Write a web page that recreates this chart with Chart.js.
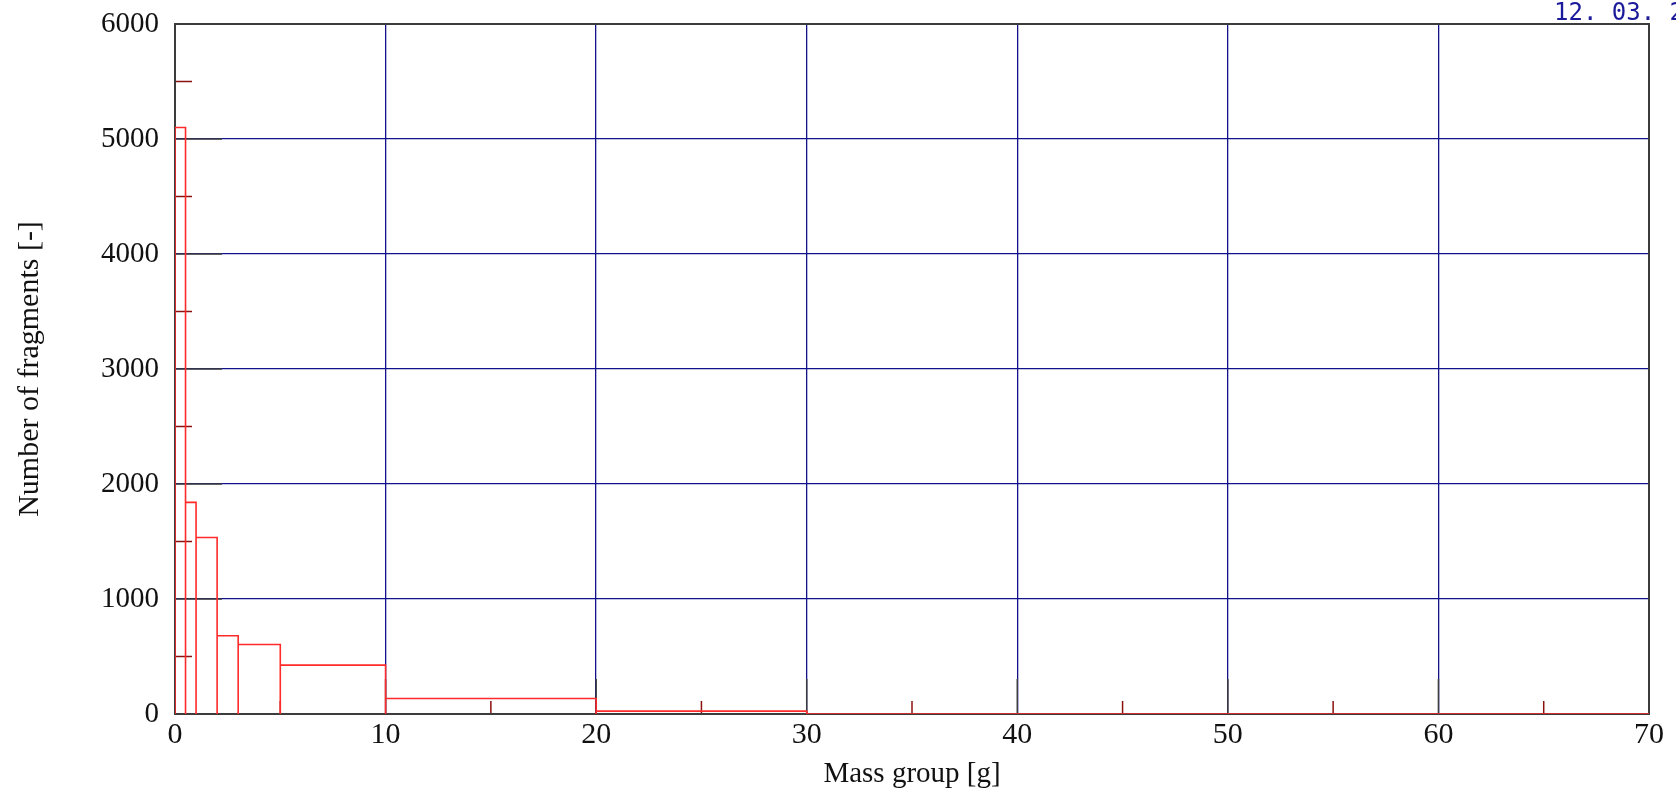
<!DOCTYPE html>
<html>
<head>
<meta charset="utf-8">
<script src="https://cdn.jsdelivr.net/npm/chart.js@4/dist/chart.umd.min.js"></script>
<style>
html, body { margin: 0; padding: 0; background: #fff; overflow: hidden; }
</style>
</head>
<body>
<canvas id="graficoMasas" width="1676" height="792"></canvas>
<script>
// bordes de clase (g) y numero de fragmentos por clase
const binEdges = [0, 0.5, 1, 2, 3, 5, 10, 20, 30, 40, 50, 60, 70];
const fragmentCounts = [5100, 1840, 1535, 680, 605, 425, 135, 25, 0, 0, 0, 0];
const xMinorTicks = [5, 15, 25, 35, 45, 55, 65];
const yMinorTicks = [500, 1500, 2500, 3500, 4500, 5500];
const dateLabel = '12. 03. 2';

// contorno del histograma (cada clase como rectangulo)
const histPoints = [{ x: binEdges[0], y: 0 }];
fragmentCounts.forEach((n, i) => {
    histPoints.push({ x: binEdges[i], y: n });
    histPoints.push({ x: binEdges[i + 1], y: n });
    histPoints.push({ x: binEdges[i + 1], y: 0 });
});

const navy = '#12128c';
const frameColor = '#3c3c3c';

const marcoPlugin = {
    id: 'marco',
    beforeDatasetsDraw(chart) {
        const { ctx, chartArea: a, scales: { x, y } } = chart;
        ctx.save();
        ctx.lineWidth = 1.5;
        // marcas principales (oscuras, hacia dentro)
        ctx.strokeStyle = frameColor;
        y.ticks.forEach(t => {
            if (t.value <= y.min || t.value >= y.max) return;
            const py = y.getPixelForValue(t.value);
            ctx.beginPath(); ctx.moveTo(a.left, py); ctx.lineTo(a.left + 47, py); ctx.stroke();
        });
        x.ticks.forEach(t => {
            if (t.value <= x.min || t.value >= x.max) return;
            const px = x.getPixelForValue(t.value);
            ctx.beginPath(); ctx.moveTo(px, a.bottom); ctx.lineTo(px, a.bottom - 35); ctx.stroke();
        });
        // marcas secundarias
        ctx.strokeStyle = '#8b1010';
        yMinorTicks.forEach(v => {
            const py = y.getPixelForValue(v);
            ctx.beginPath(); ctx.moveTo(a.left, py); ctx.lineTo(a.left + 17, py); ctx.stroke();
        });
        xMinorTicks.forEach(v => {
            const px = x.getPixelForValue(v);
            ctx.beginPath(); ctx.moveTo(px, a.bottom); ctx.lineTo(px, a.bottom - 13); ctx.stroke();
        });
        // marco
        ctx.strokeStyle = frameColor;
        ctx.lineWidth = 2;
        ctx.strokeRect(a.left, a.top, a.right - a.left, a.bottom - a.top);
        ctx.restore();
    },
    afterDraw(chart) {
        const ctx = chart.ctx;
        ctx.save();
        ctx.font = '24px "DejaVu Sans Mono"';
        ctx.fillStyle = '#1a1a9a';
        ctx.textBaseline = 'alphabetic';
        ctx.fillText(dateLabel, 1554, 20);
        ctx.restore();
    }
};

const ctx = document.getElementById('graficoMasas').getContext('2d');
window.miGraficoMasas = new Chart(ctx, {
    type: 'line',
    data: {
        datasets: [{
            label: 'Fragments',
            data: histPoints,
            borderColor: '#ff2a2a',
            borderWidth: 1.6,
            pointRadius: 0,
            fill: false,
            tension: 0
        }]
    },
    options: {
        responsive: false,
        animation: false,
        layout: { padding: { top: 24, right: 27, left: 0, bottom: 0 } },
        plugins: {
            legend: { display: false },
            tooltip: { enabled: false }
        },
        scales: {
            x: {
                type: 'linear',
                min: 0,
                max: 70,
                afterFit: s => { s.height = 78; s.paddingRight = 0; s.paddingLeft = 0; },
                ticks: {
                    stepSize: 10,
                    padding: 3,
                    color: '#111',
                    callback: v => String(v),
                    font: { family: '"Liberation Serif"', size: 30 }
                },
                grid: { color: navy, lineWidth: 1.3, drawTicks: false },
                border: { display: false },
                title: {
                    display: true,
                    text: 'Mass group [g]',
                    color: '#111',
                    padding: { top: 0, bottom: 0 },
                    font: { family: '"Liberation Serif"', size: 29 }
                }
            },
            y: {
                min: 0,
                max: 6000,
                afterFit: s => { s.width = 175; s.paddingTop = 0; s.paddingBottom = 0; },
                ticks: {
                    stepSize: 1000,
                    padding: 16,
                    color: '#111',
                    callback: v => String(v),
                    font: { family: '"Liberation Serif"', size: 29 }
                },
                grid: { color: navy, lineWidth: 1.3, drawTicks: false },
                border: { display: false },
                title: {
                    display: true,
                    text: 'Number of fragments [-]',
                    color: '#111',
                    padding: { top: 12, bottom: 0 },
                    font: { family: '"Liberation Serif"', size: 30 }
                }
            }
        }
    },
    plugins: [marcoPlugin]
});
</script>
</body>
</html>
